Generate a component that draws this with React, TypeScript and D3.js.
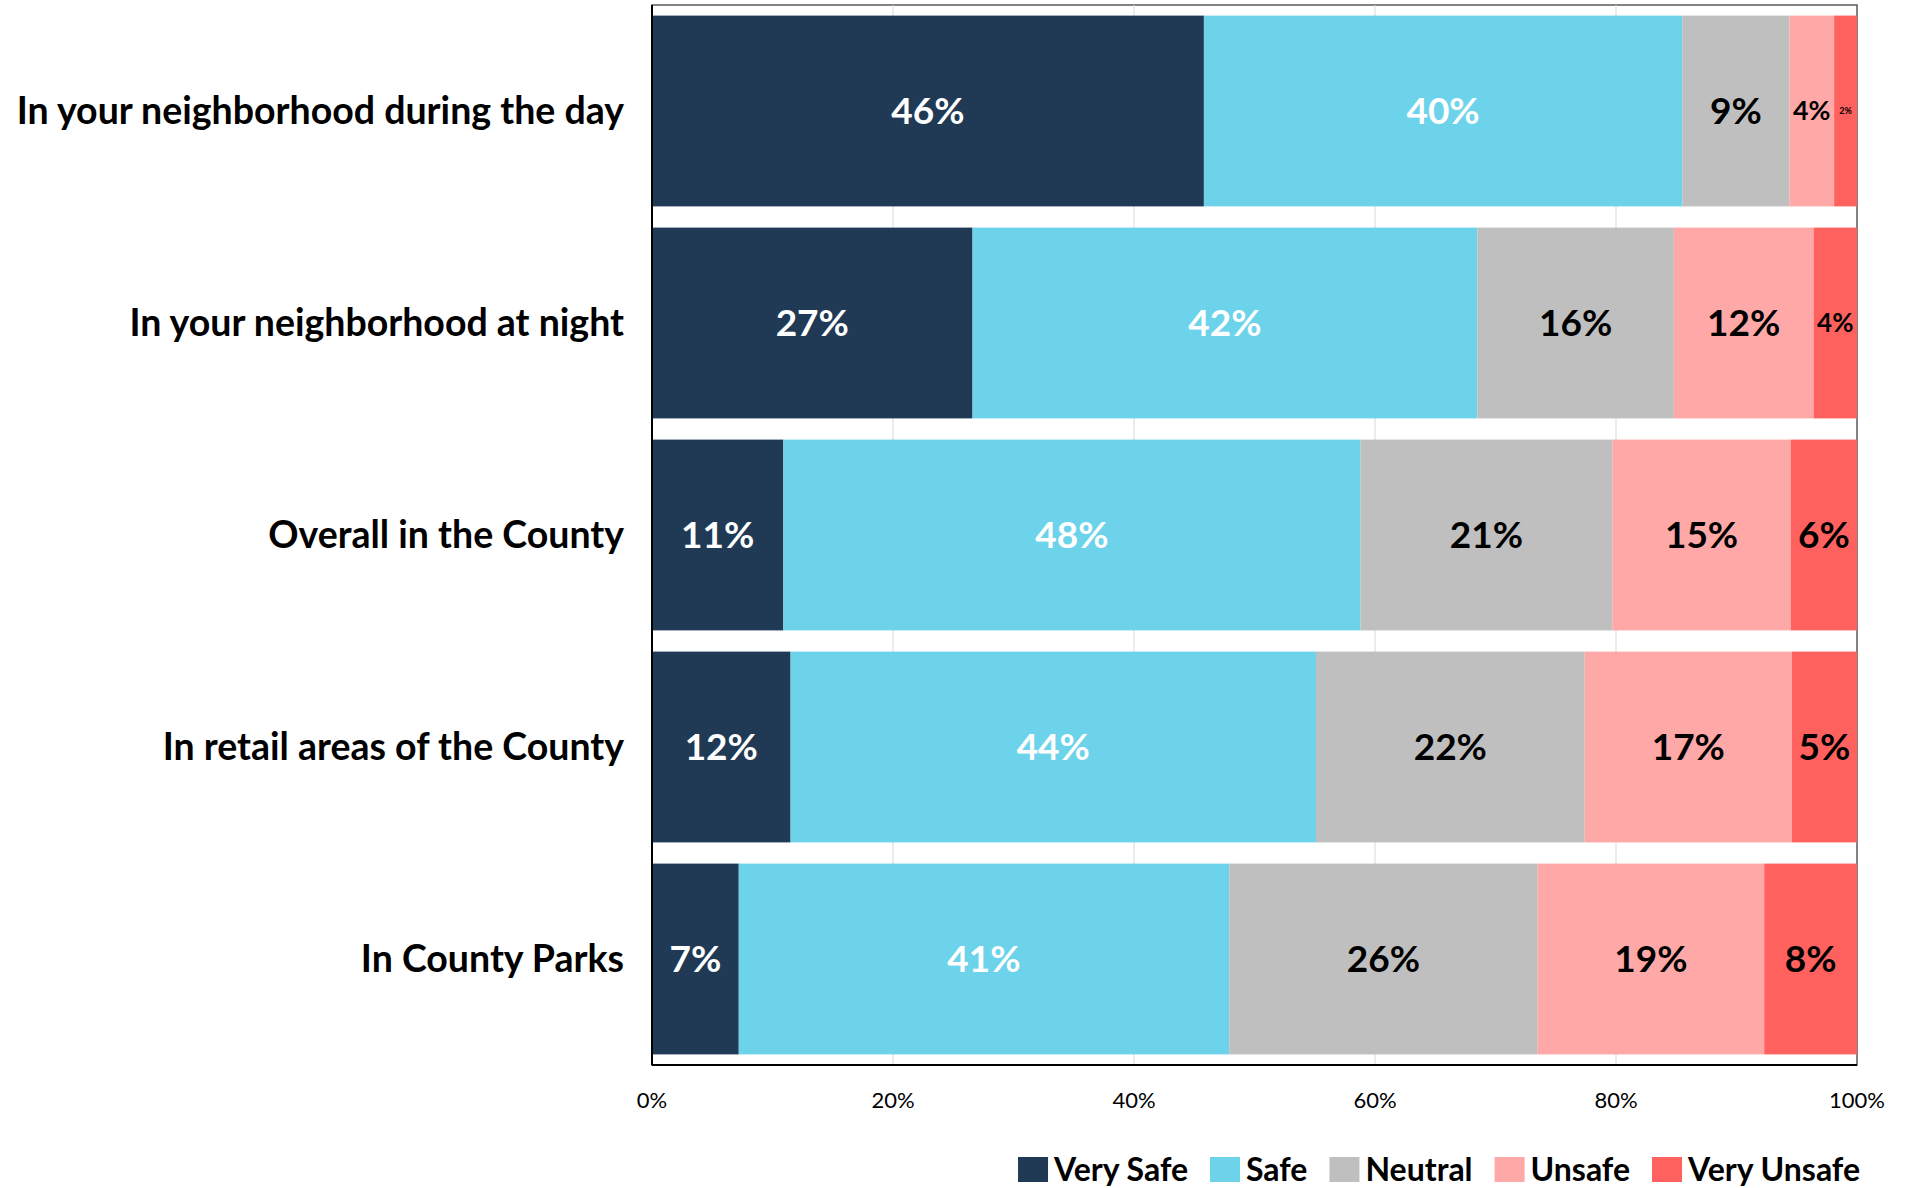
import { useEffect, useRef } from "react";
import * as d3 from "d3";

const categories = [
  "In your neighborhood during the day",
  "In your neighborhood at night",
  "Overall in the County",
  "In retail areas of the County",
  "In County Parks",
];
const seriesNames = ["Very Safe", "Safe", "Neutral", "Unsafe", "Very Unsafe"];
// percent values per category, in series order
const verySafe = [45.8, 26.6, 10.9, 11.5, 7.2];
const safe = [39.7, 41.9, 47.9, 43.6, 40.7];
const neutral = [8.9, 16.3, 20.9, 22.3, 25.6];
const unsafe = [3.7, 11.6, 14.8, 17.2, 18.8];
const veryUnsafe = [1.9, 3.6, 5.5, 5.4, 7.7];
const xTicks = [0, 20, 40, 60, 80, 100];

const App = () => {
  const ref = useRef(null);

  useEffect(() => {
    const W = 1908;
    const H = 1188;
    const svg = d3.select(ref.current).attr("width", W).attr("height", H);
    svg.selectAll("*").remove();

    const margin = { left: 652, right: 51, top: 5, bottom: 123 };
    const font = "Lato, 'Open Sans', sans-serif";

    const colors = ["#203a55", "#6dd3ea", "#bfbfbf", "#ffa8a8", "#ff625e"];
    const labelColors = ["#ffffff", "#ffffff", "#000000", "#000000", "#000000"];

    const x = d3
      .scaleLinear()
      .domain([0, 100])
      .range([margin.left, W - margin.right]);
    const y = d3
      .scaleBand()
      .domain(categories)
      .range([margin.top, H - margin.bottom])
      .paddingInner(0.1)
      .paddingOuter(0.05);

    const rows = categories.map((c, i) => ({
      cat: c,
      "Very Safe": verySafe[i],
      Safe: safe[i],
      Neutral: neutral[i],
      Unsafe: unsafe[i],
      "Very Unsafe": veryUnsafe[i],
    }));
    const stacked = d3.stack().keys(seriesNames)(rows);

    // plot frame
    svg
      .append("rect")
      .attr("x", x(0))
      .attr("y", margin.top)
      .attr("width", x(100) - x(0))
      .attr("height", H - margin.bottom - margin.top)
      .attr("fill", "none")
      .attr("stroke", "#595959")
      .attr("stroke-width", 1.5);

    // gridlines
    svg
      .append("g")
      .selectAll("line")
      .data(xTicks.slice(1, -1))
      .enter()
      .append("line")
      .attr("x1", (d) => x(d))
      .attr("x2", (d) => x(d))
      .attr("y1", margin.top)
      .attr("y2", H - margin.bottom)
      .attr("stroke", "#d9d9d9")
      .attr("stroke-width", 1);

    // bars
    const layers = svg
      .append("g")
      .selectAll("g")
      .data(stacked)
      .enter()
      .append("g")
      .attr("fill", (d, i) => colors[i]);

    layers
      .selectAll("rect")
      .data((d) => d)
      .enter()
      .append("rect")
      .attr("x", (d) => x(d[0]))
      .attr("width", (d) => x(d[1]) - x(d[0]))
      .attr("y", (d) => y(d.data.cat))
      .attr("height", y.bandwidth());

    // value labels
    stacked.forEach((layer, si) => {
      svg
        .append("g")
        .selectAll("text")
        .data(layer)
        .enter()
        .append("text")
        .attr("x", (d) => (x(d[0]) + x(d[1])) / 2)
        .attr("y", (d) => y(d.data.cat) + y.bandwidth() / 2)
        .attr("dy", "0.35em")
        .attr("text-anchor", "middle")
        .attr("fill", labelColors[si])
        .style("font-family", font)
        .style("font-weight", 700)
        .style("font-size", (d) => {
          const v = d[1] - d[0];
          if (v < 3) return "9px";
          return Math.min(37, (x(d[1]) - x(d[0])) * 0.6) + "px";
        })
        .text((d) => Math.round(d[1] - d[0]) + "%");
    });

    // left and bottom axis lines
    svg
      .append("line")
      .attr("x1", x(0))
      .attr("x2", x(0))
      .attr("y1", margin.top)
      .attr("y2", H - margin.bottom)
      .attr("stroke", "#000")
      .attr("stroke-width", 2);
    svg
      .append("line")
      .attr("x1", x(0))
      .attr("x2", x(100))
      .attr("y1", H - margin.bottom)
      .attr("y2", H - margin.bottom)
      .attr("stroke", "#000")
      .attr("stroke-width", 2);

    // category labels
    svg
      .append("g")
      .selectAll("text")
      .data(categories)
      .enter()
      .append("text")
      .attr("x", margin.left - 28)
      .attr("y", (d) => y(d) + y.bandwidth() / 2)
      .attr("dy", "0.35em")
      .attr("text-anchor", "end")
      .style("font-family", font)
      .style("font-weight", 700)
      .style("font-size", "37.5px")
      .text((d) => d);

    // x tick labels
    svg
      .append("g")
      .selectAll("text")
      .data(xTicks)
      .enter()
      .append("text")
      .attr("x", (d) => x(d))
      .attr("y", 1100)
      .attr("dy", "0.35em")
      .attr("text-anchor", "middle")
      .style("font-family", font)
      .style("font-size", "22px")
      .text((d) => d + "%");

    // legend, laid out right to left from measured text widths
    const legend = svg.append("g");
    const items = seriesNames.map((name, i) => {
      const g = legend.append("g");
      g.append("rect")
        .attr("width", 30)
        .attr("height", 25)
        .attr("y", 1157)
        .attr("fill", colors[i]);
      const t = g
        .append("text")
        .attr("x", 36)
        .attr("y", 1170)
        .attr("dy", "0.35em")
        .style("font-family", font)
        .style("font-weight", 700)
        .style("font-size", "32px")
        .text(name);
      const w = (t.node() as SVGTextElement).getComputedTextLength();
      return { g, w: 36 + w };
    });
    let cursor = 1860;
    for (let i = items.length - 1; i >= 0; i--) {
      cursor -= items[i].w;
      items[i].g.attr("transform", `translate(${cursor},0)`);
      cursor -= 22;
    }
  }, []);

  return (
    <div style={{ position: "absolute", left: 0, top: 0 }}>
      <svg ref={ref}></svg>
    </div>
  );
};

export default App;
